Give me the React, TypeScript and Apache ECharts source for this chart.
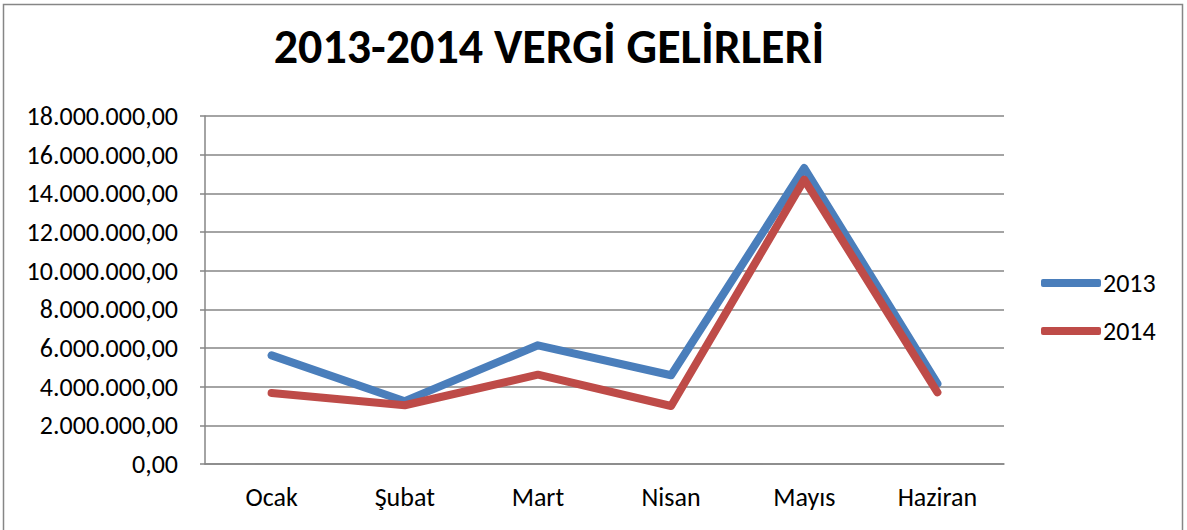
import React, { useEffect, useRef } from "react";
import * as echarts from "echarts";

const months = ["Ocak", "Şubat", "Mart", "Nisan", "Mayıs", "Haziran"];
const values2013 = [5620000, 3250000, 6140000, 4590000, 15310000, 4160000];
const values2014 = [3670000, 3040000, 4620000, 3000000, 14710000, 3710000];
const titleText = "2013-2014 VERGİ GELİRLERİ";

function fmt(v: number): string {
  const s = Math.round(v).toString().replace(/\B(?=(\d{3})+(?!\d))/g, ".");
  return s + ",00";
}

export default function App() {
  const ref = useRef<HTMLDivElement>(null);
  useEffect(() => {
    document.body.style.margin = "0";
    const chart = echarts.init(ref.current!, null, { renderer: "svg" });
    const font = "Carlito, 'Open Sans', 'Liberation Sans', sans-serif";
    chart.setOption({
      animation: false,
      backgroundColor: "#ffffff",
      title: {
        text: titleText,
        left: 544,
        textAlign: "center",
        top: 17,
        textStyle: { fontSize: 48, fontWeight: "bold", color: "#000", fontFamily: font },
      },
      graphic: [
        {
          type: "rect",
          shape: { x: 3.5, y: 4.5, width: 1179, height: 540 },
          style: { fill: "none", stroke: "#868686", lineWidth: 1.5 },
          silent: true,
        },
      ],
      legend: {
        orient: "vertical",
        left: 1041,
        top: 270,
        padding: 0,
        itemWidth: 60,
        itemHeight: 8,
        itemGap: 22,
        icon: "roundRect",
        textStyle: { fontSize: 26, color: "#000", fontFamily: font, padding: [0, 0, 0, -3] },
        data: ["2013", "2014"],
      },
      grid: { left: 205, right: 183, top: 116, bottom: 66 },
      xAxis: {
        type: "category",
        data: months,
        boundaryGap: true,
        axisLine: { lineStyle: { color: "#868686", width: 1.5 } },
        axisTick: { show: false },
        axisLabel: { fontSize: 26, color: "#000", margin: 20, fontFamily: font },
      },
      yAxis: {
        type: "value",
        min: 0,
        max: 18000000,
        interval: 2000000,
        axisLine: { show: true, lineStyle: { color: "#868686", width: 1.5 } },
        axisTick: { show: true, length: 5, lineStyle: { color: "#868686", width: 1.5 } },
        splitLine: { lineStyle: { color: "#868686", width: 1.5 } },
        axisLabel: { fontSize: 26, color: "#000", margin: 27, fontFamily: font, formatter: (v: number) => fmt(v) },
      },
      series: [
        {
          name: "2013",
          type: "line",
          data: values2013,
          symbol: "none",
          lineStyle: { width: 8, color: "#4A7EBB", cap: "round", join: "round" },
          itemStyle: { color: "#4A7EBB" },
        },
        {
          name: "2014",
          type: "line",
          data: values2014,
          symbol: "none",
          lineStyle: { width: 8, color: "#BE4B48", cap: "round", join: "round" },
          itemStyle: { color: "#BE4B48" },
        },
      ],
    });
    return () => chart.dispose();
  }, []);
  return <div ref={ref} style={{ width: 1187, height: 530 }} />;
}
